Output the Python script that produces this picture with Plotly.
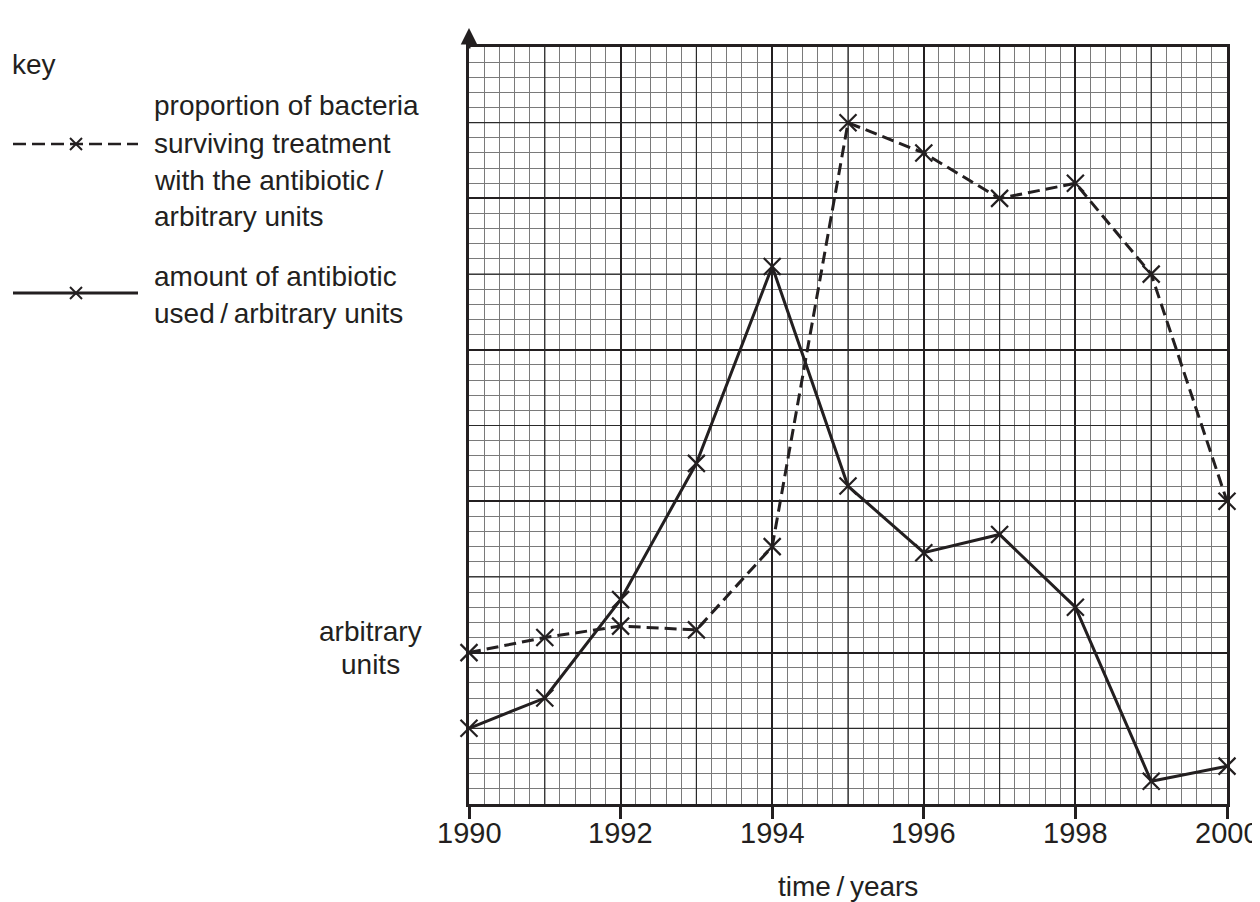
import plotly.graph_objects as go

# ---- data ----
years = [1990, 1991, 1992, 1993, 1994, 1995, 1996, 1997, 1998, 1999, 2000]
surviving = [10, 11, 11.75, 11.5, 17, 45, 43, 40, 41, 35, 20]
antibiotic_used = [5, 7, 13.5, 22.5, 35.5, 21, 16.6, 17.8, 13, 1.5, 2.5]
x_ticks = [1990, 1992, 1994, 1996, 1998, 2000]
x_range = [1990, 2000]
y_range = [0, 50]

INK = "#231f20"
FONT = "Liberation Sans, Arial, sans-serif"

# page body has an 8px margin -> figure drawn 8px in from the window edge
OFF = 8
W, H = 1260 - OFF, 902 - OFF
L, R, T, B = 469, 1227, 47, 804          # plot area in window pixels
PW, PH = R - L, B - T


def px2x(px):
    return (px - L) / PW


def py2y(py):
    return (B - py) / PH


fig = go.Figure()

mk = dict(symbol="x-thin", size=17, line=dict(width=2.2, color=INK), color=INK)
fig.add_trace(go.Scatter(
    x=years, y=surviving, mode="lines+markers",
    line=dict(color=INK, width=3, dash="12px,6px"),
    marker=mk, showlegend=False, cliponaxis=False,
))
fig.add_trace(go.Scatter(
    x=years, y=antibiotic_used, mode="lines+markers",
    line=dict(color=INK, width=3),
    marker=mk, showlegend=False, cliponaxis=False,
))

shapes = []
# mid-weight grid lines (every 1 year / every 5 units)
for xv in [1991, 1993, 1995, 1997, 1999]:
    shapes.append(dict(type="line", xref="x", yref="y", x0=xv, x1=xv, y0=0, y1=50,
                       line=dict(color="#2a2a2a", width=1.2), layer="between"))
for yv in [5, 15, 25, 35, 45]:
    shapes.append(dict(type="line", xref="x", yref="y", x0=1990, x1=2000, y0=yv, y1=yv,
                       line=dict(color="#2a2a2a", width=1.2), layer="between"))


def hline(x0, x1, y, dash=None, width=3):
    d = dict(type="line", xref="paper", yref="paper", x0=px2x(x0), x1=px2x(x1),
             y0=py2y(y), y1=py2y(y), line=dict(color=INK, width=width))
    if dash:
        d["line"]["dash"] = dash
    return d


def cross(cx, cy, r=6):
    return [
        dict(type="line", xref="paper", yref="paper", x0=px2x(cx - r), x1=px2x(cx + r),
             y0=py2y(cy - r), y1=py2y(cy + r), line=dict(color=INK, width=2)),
        dict(type="line", xref="paper", yref="paper", x0=px2x(cx - r), x1=px2x(cx + r),
             y0=py2y(cy + r), y1=py2y(cy - r), line=dict(color=INK, width=2)),
    ]

shapes.append(hline(13, 138, 144, dash="13px,6px", width=2.5))
shapes += cross(76, 144)
shapes.append(hline(13, 138, 293, width=3))
shapes += cross(76, 293)

annotations = []


def text(s, x, y, anchor="left", size=28, xref="paper"):
    annotations.append(dict(text=s, xref=xref, yref="paper",
                            x=(x if xref == "x" else px2x(x)), y=py2y(y),
                            xanchor=anchor, yanchor="middle", showarrow=False,
                            font=dict(family=FONT, size=size, color=INK)))

text("key", 10, 64)
text("proportion of bacteria", 152, 106)
text("surviving treatment", 152, 143)
text("with the antibiotic\u2009/", 152, 180)
text("arbitrary units", 152, 217)
text("amount of antibiotic", 152, 276)
text("used\u2009/\u2009arbitrary units", 152, 313)
text("arbitrary", 370, 631, anchor="center")
text("units", 370, 664, anchor="center")
text("time\u2009/\u2009years", 848, 886, anchor="center")

# x tick labels
for xv in x_ticks:
    text(str(xv), xv, 833, anchor="center", size=29, xref="x")

# y-axis arrow
annotations.append(dict(x=1990, y=py2y(28), xref="x", yref="paper", text="",
                        showarrow=True, ax=0, ay=22, axref="pixel", ayref="pixel",
                        arrowhead=2, arrowsize=1.1, arrowwidth=3, arrowcolor=INK,
                        standoff=0))

fig.update_layout(
    width=W, height=H,
    margin=dict(l=L - OFF, r=W - (R - OFF), t=T - OFF, b=H - (B - OFF)),
    plot_bgcolor="white", paper_bgcolor="white",
    shapes=shapes, annotations=annotations,
    font=dict(family=FONT, color=INK),
    xaxis=dict(
        range=x_range, tickvals=x_ticks, showticklabels=False,
        showgrid=True, gridcolor=INK, gridwidth=2,
        minor=dict(dtick=0.2, showgrid=True, gridcolor="#7a7a7a", gridwidth=1.2, tick0=1990),
        showline=True, linecolor=INK, linewidth=3, mirror=True,
        ticks="outside", ticklen=12, tickwidth=2.5, tickcolor=INK,
        zeroline=False, fixedrange=True,
    ),
    yaxis=dict(
        range=y_range, dtick=10, tick0=0,
        showgrid=True, gridcolor=INK, gridwidth=2,
        minor=dict(dtick=1, showgrid=True, gridcolor="#7a7a7a", gridwidth=1.2, tick0=0),
        showline=True, linecolor=INK, linewidth=3, mirror=True,
        showticklabels=False, ticks="",
        zeroline=False, fixedrange=True,
    ),
)

fig.write_html("out.html")
